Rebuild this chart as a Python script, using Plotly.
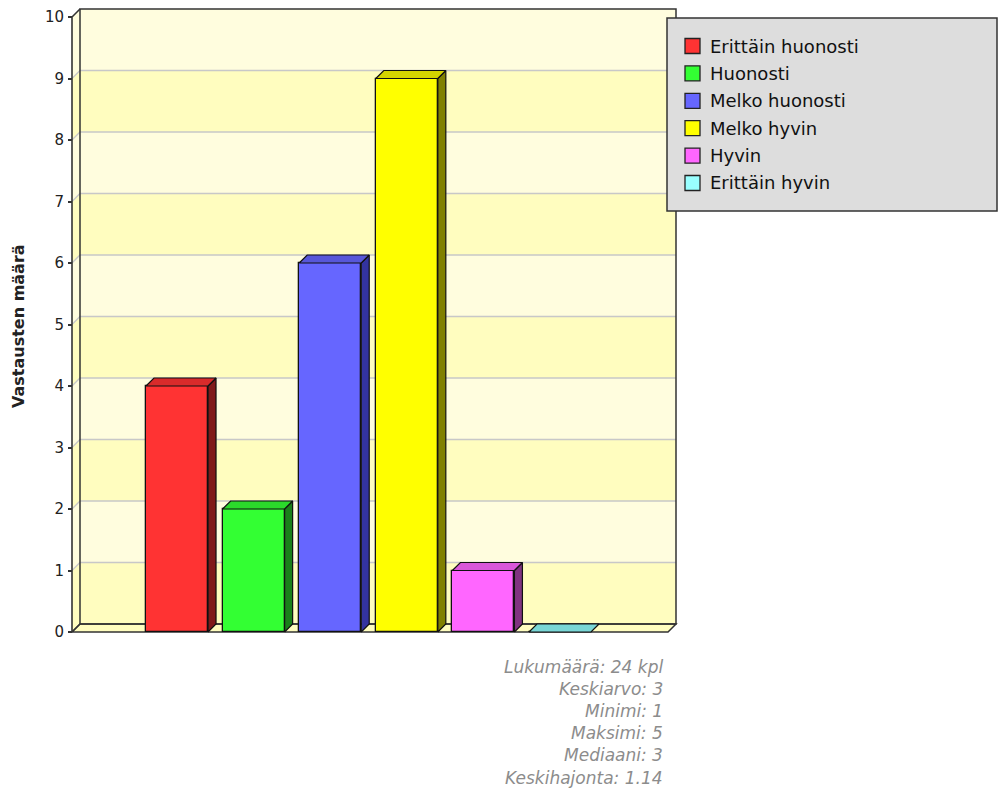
import plotly.graph_objects as go

# ---------------- data ----------------
categories = ["Erittäin huonosti", "Huonosti", "Melko huonosti",
              "Melko hyvin", "Hyvin", "Erittäin hyvin"]
counts = [4, 2, 6, 9, 1, 0]
front_colors = ["#FF3333", "#33FF33", "#6666FF", "#FFFF00", "#FF66FF", "#99FFFF"]
side_colors = ["#801A1A", "#1A801A", "#3333A0", "#808000", "#803380", "#4D8080"]
top_colors = ["#D92B2B", "#2BD92B", "#5757D9", "#D4D400", "#D957D9", "#79D6D6"]
y_ticks = list(range(0, 11))
y_title = "Vastausten määrä"
stats_lines = ["Lukumäärä: 24 kpl", "Keskiarvo: 3", "Minimi: 1",
               "Maksimi: 5", "Mediaani: 3", "Keskihajonta: 1.14"]

# ---------------- geometry (pixels) ----------------
W, H = 998, 789
PL, PR, PT, PB = 68, 680, 5, 636          # plot area in px
X0_PX, XSTEP_PX = 177, 76.6               # first category centre, spacing
Y0_PX, YSTEP_PX = 632, 61.5               # value 0 position, px per unit
FRONT_LEFT_PX, BACK_RIGHT_PX = 72, 676
DEPTH_PX = 8
HALF = 0.405                               # half bar width (category units)

X_RANGE = [(PL - X0_PX) / XSTEP_PX, (PR - X0_PX) / XSTEP_PX]
Y_RANGE = [(Y0_PX - PB) / YSTEP_PX, (Y0_PX - PT) / YSTEP_PX]
dx = DEPTH_PX / XSTEP_PX
dy = DEPTH_PX / YSTEP_PX
xL = (FRONT_LEFT_PX - X0_PX) / XSTEP_PX
xR = (BACK_RIGHT_PX - X0_PX) / XSTEP_PX
yTop = y_ticks[-1]


def px_x(p):
    return (p - PL) / (PR - PL)


def px_y(p):
    return (PB - p) / (PB - PT)


def path(pts):
    return "M " + " L ".join(f"{x},{y}" for x, y in pts) + " Z"


BAND_DARK = "#FFFDBF"
BAND_LIGHT = "#FFFDDE"
EDGE = "#333333"
GRID = "#C8C8C8"

shapes = []
# wall bands (back wall + left wall)
for k in y_ticks[:-1]:
    col = BAND_DARK if k % 2 == 0 else BAND_LIGHT
    pts = [(xL, k), (xL, k + 1), (xL + dx, k + 1 + dy), (xR, k + 1 + dy),
           (xR, k + dy), (xL + dx, k + dy)]
    shapes.append(dict(type="path", xref="x", yref="y", path=path(pts),
                       fillcolor=col, line=dict(width=0), layer="below"))
# floor
shapes.append(dict(type="path", xref="x", yref="y",
                   path=path([(xL, 0), (xL + dx, dy), (xR, dy), (xR - dx, 0)]),
                   fillcolor=BAND_DARK, line=dict(color=EDGE, width=1.5),
                   layer="below"))
# gridlines
for k in y_ticks[1:-1]:
    shapes.append(dict(type="path", xref="x", yref="y",
                       path=f"M {xL},{k} L {xL + dx},{k + dy} L {xR},{k + dy}",
                       line=dict(color=GRID, width=1.3), layer="below"))
# back wall outline
shapes.append(dict(type="rect", xref="x", yref="y", x0=xL + dx, x1=xR,
                   y0=dy, y1=yTop + dy, line=dict(color=EDGE, width=1.5),
                   fillcolor="rgba(0,0,0,0)", layer="below"))
# left wall outline / axis line
shapes.append(dict(type="path", xref="x", yref="y",
                   path=f"M {xL},0 L {xL},{yTop} L {xL + dx},{yTop + dy}",
                   line=dict(color=EDGE, width=1.6), layer="below"))
shapes.append(dict(type="line", xref="x", yref="y", x0=xL, y0=0,
                   x1=xL + dx, y1=dy, line=dict(color=EDGE, width=1.2),
                   layer="below"))

fig = go.Figure()

# bars: front faces
xs = list(range(len(categories)))
fig.add_trace(go.Bar(x=xs, y=counts, width=2 * HALF,
                     marker=dict(color=front_colors,
                                 line=dict(color="#111111", width=1.3)),
                     hoverinfo="skip", showlegend=False))

# bars: side and top faces
for i, (c, v) in enumerate(zip(xs, counts)):
    if v > 0:
        side = [(c + HALF, 0), (c + HALF + dx, dy), (c + HALF + dx, v + dy),
                (c + HALF, v), (c + HALF, 0)]
        fig.add_trace(go.Scatter(x=[p[0] for p in side], y=[p[1] for p in side],
                                 mode="lines", fill="toself",
                                 fillcolor=side_colors[i],
                                 line=dict(color="#111111", width=1.2),
                                 hoverinfo="skip", showlegend=False))
    top = [(c - HALF, v), (c - HALF + dx, v + dy), (c + HALF + dx, v + dy),
           (c + HALF, v), (c - HALF, v)]
    fig.add_trace(go.Scatter(x=[p[0] for p in top], y=[p[1] for p in top],
                             mode="lines", fill="toself",
                             fillcolor=top_colors[i],
                             line=dict(color="#111111", width=1.2),
                             hoverinfo="skip", showlegend=False))

annotations = []
# y axis title
annotations.append(dict(text=f"<b>{y_title}</b>", x=px_x(18), y=px_y(326),
                        xref="paper", yref="paper", showarrow=False,
                        textangle=-90, xanchor="center", yanchor="middle",
                        font=dict(family="DejaVu Sans", size=16,
                                  color="#222222")))

# stats text
for j, line in enumerate(stats_lines):
    annotations.append(dict(text=f"<i>{line}</i>", x=px_x(665),
                            y=px_y(666.5 + j * 22.2), xref="paper",
                            yref="paper", showarrow=False, xanchor="right",
                            yanchor="middle",
                            font=dict(family="DejaVu Sans", size=17,
                                      color="#8C8C8C")))

# manual legend
shapes.append(dict(type="rect", xref="paper", yref="paper",
                   x0=px_x(667), x1=px_x(997), y0=px_y(211), y1=px_y(18),
                   fillcolor="#DDDDDD", line=dict(color=EDGE, width=1.5),
                   layer="above"))
for i, name in enumerate(categories):
    cy = 46 + i * 27.4
    shapes.append(dict(type="rect", xref="paper", yref="paper",
                       x0=px_x(685), x1=px_x(700), y0=px_y(cy + 7.5),
                       y1=px_y(cy - 7.5), fillcolor=front_colors[i],
                       line=dict(color="#222222", width=1.3), layer="above"))
    annotations.append(dict(text=name, x=px_x(708), y=px_y(cy), xref="paper",
                            yref="paper", showarrow=False, xanchor="left",
                            yanchor="middle",
                            font=dict(family="DejaVu Sans", size=18,
                                      color="#111111")))

fig.update_layout(
    width=W, height=H,
    margin=dict(l=PL, r=W - PR, t=PT, b=H - PB, pad=0),
    paper_bgcolor="white", plot_bgcolor="rgba(0,0,0,0)",
    shapes=shapes, annotations=annotations, showlegend=False,
    bargap=0,
    xaxis=dict(range=X_RANGE, showgrid=False, zeroline=False, showline=False,
               showticklabels=False, ticks="", fixedrange=True),
    yaxis=dict(range=Y_RANGE, showgrid=False, zeroline=False, showline=False,
               tickmode="array", tickvals=y_ticks,
               ticktext=[str(t) for t in y_ticks],
               ticks="inside", ticklen=4, tickwidth=1.5, tickcolor=EDGE,
               ticklabelstandoff=3,
               tickfont=dict(family="DejaVu Sans", size=15, color="#222222"),
               fixedrange=True),
)

fig.write_html("out.html")
